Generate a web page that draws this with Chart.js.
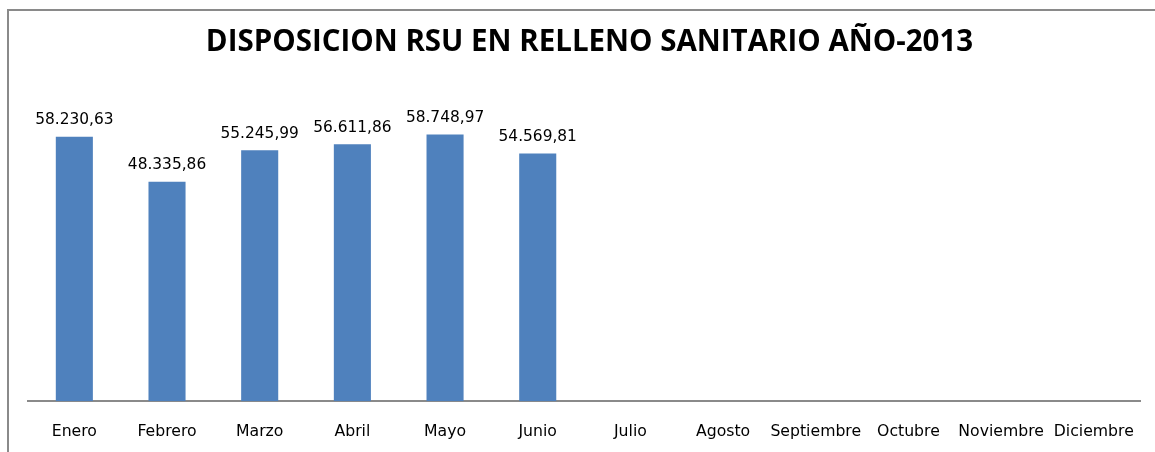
<!DOCTYPE html>
<html>
<head>
<meta charset="utf-8">
<script src="https://cdn.jsdelivr.net/npm/chart.js@4"></script>
<style>
  html, body { margin: 0; padding: 0; background: #fff; overflow: hidden; }
  #frame { position: absolute; left: 7px; top: 9px; width: 1200px; height: 500px;
           border-left: 2px solid #8a8a8a; border-top: 2px solid #8a8a8a; }
  #chart { position: absolute; left: 0; top: 0; }
</style>
</head>
<body>
<div id="frame"></div>
<canvas id="chart" width="1155" height="452"></canvas>
<script>
const months = ['Enero', 'Febrero', 'Marzo', 'Abril', 'Mayo', 'Junio',
  'Julio', 'Agosto', 'Septiembre', 'Octubre', 'Noviembre', 'Diciembre'];
const tonnes = [58230.63, 48335.86, 55245.99, 56611.86, 58748.97, 54569.81,
  null, null, null, null, null, null];
const labelText = ['58.230,63', '48.335,86', '55.245,99', '56.611,86', '58.748,97', '54.569,81'];

const barLabels = {
  id: 'barLabels',
  afterDatasetsDraw(chart) {
    const ctx = chart.ctx;
    const meta = chart.getDatasetMeta(0);
    ctx.save();
    ctx.font = '15.4px "DejaVu Sans"';
    ctx.fillStyle = '#000';
    ctx.textAlign = 'center';
    ctx.textBaseline = 'middle';
    meta.data.forEach((bar, i) => {
      if (tonnes[i] == null) return;
      ctx.fillText(labelText[i], bar.x, bar.y - 16.5);
    });
    ctx.restore();
  }
};

new Chart(document.getElementById('chart'), {
  type: 'bar',
  data: {
    labels: months,
    datasets: [{
      data: tonnes,
      backgroundColor: '#4f81bd',
      barPercentage: 0.4,
      categoryPercentage: 1
    }]
  },
  options: {
    responsive: false,
    animation: false,
    layout: { padding: { left: 28, right: 4, top: 10, bottom: -10 } },
    plugins: {
      legend: { display: false },
      tooltip: { enabled: false },
      title: {
        display: true,
        text: 'DISPOSICION RSU EN RELLENO SANITARIO AÑO-2013',
        color: '#000',
        font: { family: 'Open Sans', size: 29.5, weight: 'bold', lineHeight: 1.2 },
        padding: { top: 15, bottom: 23 }
      }
    },
    scales: {
      x: {
        grid: { display: false, drawTicks: false },
        border: { display: true, color: '#8a8a8a', width: 2 },
        ticks: { color: '#000', padding: 21, maxRotation: 0, autoSkip: false,
                 font: { family: 'DejaVu Sans', size: 15.7 } }
      },
      y: {
        display: false,
        min: 0,
        max: 70000
      }
    }
  },
  plugins: [barLabels]
});
</script>
</body>
</html>
